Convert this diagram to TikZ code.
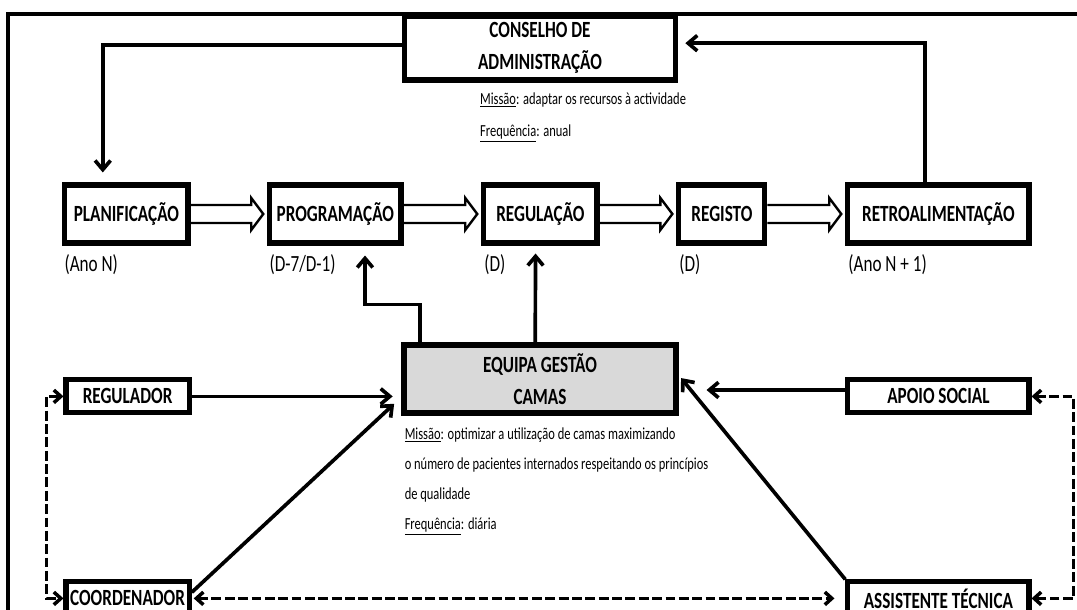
\documentclass[tikz,border=0pt]{standalone}
\usepackage{fontspec}
\setmainfont{Carlito}[FakeStretch=0.74]
\usepackage{tikz}
\usetikzlibrary{arrows.meta, calc, positioning}

\begin{document}
\begin{tikzpicture}[auto,>={Straight Barb[length=6.5pt,width=11pt]}]
        \tikzstyle{block} = [draw, shape=rectangle, line width=3.6pt, inner sep=0pt,
        align=center, minimum height=1.45cm, font=\bfseries\fontsize{16.5}{22.8}\selectfont]
        \tikzstyle{small} = [block, minimum height=0.825cm, minimum width=3.08cm]
        \tikzstyle{tag} = [anchor=base west, inner sep=0pt, font=\fontsize{16.5}{20}\selectfont]
        \tikzstyle{note} = [anchor=north west, inner sep=0pt, align=left,
        font=\fontsize{12}{22.5}\selectfont]
        \tikzstyle{hollow} = [draw, line width=1.7pt, line join=miter, to path={
          let \p1=(\tikztostart), \p2=(\tikztotarget) in
          (\x1,\y1+0.225cm) -- (\x2-0.4cm,\y1+0.225cm) -- (\x2-0.4cm,\y1+0.4cm)
          -- (\x2-0.1cm,\y1) -- (\x2-0.4cm,\y1-0.4cm) -- (\x2-0.4cm,\y1-0.225cm)
          -- (\x1,\y1-0.225cm)}]
        \useasboundingbox (0,0) rectangle (26.925,15.25);
        \clip (0,0) rectangle (26.925,15.25);
        \draw[line width=2.6pt] (26.925,14.9) -- (0.2,14.9) -- (0.2,0);
        %Creating Blocks and Connection Nodes
        \node [block, minimum width=6.78cm, minimum height=1.6cm] at (13.5,14.05) (conselho) {CONSELHO DE\\ADMINISTRAÇÃO};
        \node [note] at ([xshift=1.95cm,yshift=-0.25cm]conselho.south west) (mconselho)
          {\underline{Missão}: adaptar os recursos à actividade\\\underline{Frequência}: anual};
        \node [block, minimum width=3.08cm] at (3.16,9.9) (planif) {PLANIFICAÇÃO};
        \node [block, minimum width=3.28cm, node distance=5.225cm, right of=planif] (prog) {PROGRAMAÇÃO};
        \node [block, minimum width=2.83cm, node distance=5.125cm, right of=prog] (regul) {REGULAÇÃO};
        \node [block, minimum width=2.15cm, node distance=4.5375cm, right of=regul] (registo) {REGISTO};
        \node [block, minimum width=4.53cm, node distance=5.4125cm, right of=registo] (retro) {RETROALIMENTAÇÃO};
        \node [tag] at ([xshift=0.05cm,yshift=-0.64cm]planif.south west) (tplanif) {(Ano N)};
        \node [tag] at ([xshift=0.05cm,yshift=-0.64cm]prog.south west) (tprog) {(D-7/D-1)};
        \node [tag] at ([xshift=0.07cm,yshift=-0.64cm]regul.south west) (tregul) {(D)};
        \node [tag] at ([xshift=0.07cm,yshift=-0.64cm]registo.south west) (tregisto) {(D)};
        \node [tag] at ([xshift=0.07cm,yshift=-0.64cm]retro.south west) (tretro) {(Ano N + 1)};
        \node [block, fill=black!15, minimum width=6.8cm, minimum height=1.7cm] at (13.5,5.775) (equipa) {EQUIPA GESTÃO\\CAMAS};
        \node [note, font=\fontsize{12}{21.5}\selectfont] at ([xshift=0.075cm,yshift=-0.29cm]equipa.south west) (mequipa)
          {\underline{Missão}: optimizar a utilização de camas maximizando\\o número de pacientes internados respeitando os princípios\\de qualidade\\\underline{Frequência}: diária};
        \node [small] at (3.19,5.34) (regulador) {REGULADOR};
        \node [small, node distance=5.05cm, below of=regulador] (coord) {COORDENADOR};
        \node [small, minimum width=4.53cm] at (23.46,5.34) (apoio) {APOIO SOCIAL};
        \node [small, minimum width=4.53cm, node distance=5.05cm, below of=apoio] (assist) {ASSISTENTE TÉCNICA};
        \coordinate (apoioout) at ([yshift=0.16cm]apoio.west);

        %Connecting Blocks
        \draw[hollow] (planif.east) to (prog.west);
        \draw[hollow] (prog.east) to (regul.west);
        \draw[hollow] (regul.east) to (registo.west);
        \draw[hollow] (registo.east) to (retro.west);
        \begin{scope}[line width=2.6pt]
            \draw[->, shorten >=0.25cm] ([yshift=0.075cm]conselho.west) -| ([xshift=-0.59cm]planif.north);
            \draw[->, shorten >=0.18cm] ([xshift=-0.34cm]retro.north) |- ([yshift=0.12cm]conselho.east);
            \draw[->, shorten >=0.25cm] ([xshift=-3cm]equipa.north) -- ++(0,0.95) -| ([xshift=0.74cm]prog.south);
            \draw[->, shorten >=0.2cm] ([xshift=-0.12cm]equipa.north) -- ([xshift=-0.12cm]regul.south);
            \draw[->, shorten >=0.22cm] (regulador.east) -- (regulador.east -| equipa.west);
            \draw[->, shorten >=0.25cm] ([yshift=0.15cm]coord.east) -- ([yshift=-0.45cm]equipa.west);
            \draw[->, shorten >=0.7cm] (apoioout) -- (apoioout -| equipa.east);
            \draw[->, shorten >=0.1cm] (assist.north west) -- ([yshift=0.1cm]equipa.east);
        \end{scope}
        \begin{scope}[line width=2.5pt, dash pattern=on 7pt off 2.5pt, >={Straight Barb[length=5pt,width=9pt]}]
            \draw[<->] (regulador.west) -- ++(-0.42,0) |- (coord.west);
            \draw[<->] (apoio.east) -- ++(1.05,0) |- (assist.east);
            \draw[<->, shorten <=0.05cm, shorten >=0.27cm] (coord.east) -- (assist.west);
        \end{scope}
    \end{tikzpicture}
\end{document}
